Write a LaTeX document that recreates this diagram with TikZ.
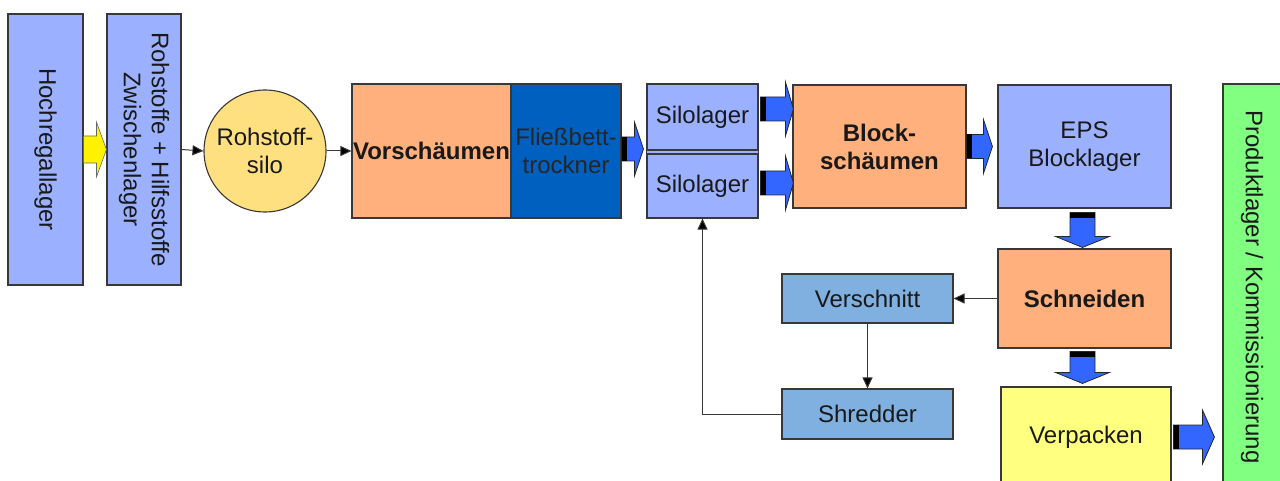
\documentclass[tikz,border=0pt]{standalone}
\usepackage{fontspec}
\setmainfont{Liberation Sans}
\usetikzlibrary{arrows.meta,calc,backgrounds}

\definecolor{lav}{HTML}{9BB0FF}
\definecolor{peach}{HTML}{FFB07C}
\definecolor{dryer}{HTML}{0060C0}
\definecolor{steel}{HTML}{80B0E0}
\definecolor{siloyellow}{HTML}{FFE080}
\definecolor{packyellow}{HTML}{FFFF80}
\definecolor{storegreen}{HTML}{80FF80}
\definecolor{arrowblue}{HTML}{3366FF}
\definecolor{edge}{HTML}{383838}

\tikzset{
  box/.style={draw=edge, line width=1.1pt, inner sep=0pt, align=center,
    font=\fontsize{24}{28}\selectfont, text=black!90},
  boldbox/.style={box, font=\fontsize{24}{28}\selectfont\bfseries},
  flow/.style={draw=edge, line width=1pt, -{Triangle[length=11pt,width=10pt,fill=black]}},
  bigarrow/.style={draw=black!85, line width=0.8pt, fill=arrowblue},
}

% wide arrow pointing right: tail point #2, tip x taken from #3, head length #1
\newcommand\arrowright[3][9pt]{%
  \path[bigarrow] let \p1=#2, \p2=#3 in
    (\x1,\y1+12pt) -- (\x2-#1,\y1+12pt) -- (\x2-#1,\y1+27pt) -- (\x2,\y1)
    -- (\x2-#1,\y1-27pt) -- (\x2-#1,\y1-12pt) -- (\x1,\y1-12pt) -- cycle;
  \path[fill=black] let \p1=#2 in
    (\x1,\y1-12pt) rectangle (\x1+5pt,\y1+12pt);
}
% wide arrow pointing down: tail point #1, tip y taken from #2
\newcommand\arrowdown[2]{%
  \path[bigarrow] let \p1=#1, \p2=#2 in
    (\x1-12.5pt,\y1) -- (\x1-12.5pt,\y2+11pt) -- (\x1-27pt,\y2+11pt) -- (\x1,\y2)
    -- (\x1+27pt,\y2+11pt) -- (\x1+12.5pt,\y2+11pt) -- (\x1+12.5pt,\y1) -- cycle;
  \path[fill=black] let \p1=#1 in
    (\x1-12.5pt,\y1) rectangle (\x1+12.5pt,\y1-5pt);
}

\begin{document}
\begin{tikzpicture}[x=1pt, y=-1pt]
\useasboundingbox (0,0) rectangle (1280,481);

% storage columns (rotated: local north faces right, local south faces left)
\node[box, fill=lav, rotate=-90, minimum width=271pt, minimum height=75pt]
  (hoch) at (45.5,149.5) {Hochregallager};
\node[box, fill=lav, rotate=-90, minimum width=271pt, minimum height=74pt]
  (zwisch) at (144,149.5) {Rohstoffe + Hilfsstoffe\\Zwischenlager};

% raw material silo
\node[box, circle, fill=siloyellow, minimum size=122pt] (silo) at (265,151) {Rohstoff-\\silo};

% pre-foaming and fluid bed dryer
\node[boldbox, fill=peach, minimum width=159pt, minimum height=134pt] (vor) at (431.5,151) {Vorschäumen};
\node[box, fill=dryer, minimum width=110pt, minimum height=134pt, text=black!85] (fb) at (566,151) {Fließbett-\\trockner};

% silo storage: two stacked silos joined by a narrow band
\node[box, fill=lav, minimum width=111pt, minimum height=66pt] (silo1) at (702.5,117) {Silolager};
\node[box, fill=lav, minimum width=111pt, minimum height=64pt] (silo2) at (702.5,186) {Silolager};
\begin{scope}[on background layer]
  \fill[lav] (silo1.south west) rectangle (silo2.north east);
  \draw[edge, line width=1.1pt] (silo1.south west) -- (silo2.north west)
    (silo1.south east) -- (silo2.north east);
\end{scope}

% block moulding and block storage
\node[boldbox, fill=peach, minimum width=173pt, minimum height=123pt] (block) at (879.5,146.5) {Block-\\schäumen};
\node[box, fill=lav, minimum width=173pt, minimum height=123pt] (eps) at (1084.5,146.5) {EPS\\Blocklager};

% cutting, offcuts and shredding
\node[boldbox, fill=peach, minimum width=173pt, minimum height=99pt] (schneid) at (1084.5,298.5) {Schneiden};
\node[box, fill=steel, minimum width=171pt, minimum height=49pt] (versch) at (867.5,298.5) {Verschnitt};
\node[box, fill=steel, minimum width=171pt, minimum height=50pt] (shred) at (867.5,414) {Shredder};

% packing and product storage
\node[box, fill=packyellow, minimum width=170pt, minimum height=100pt] (verp) at (1086,437) {Verpacken};
\node[box, fill=storegreen, rotate=-90, minimum width=406pt, minimum height=58pt]
  (prod) at (1252,287) {Produktlager / Kommissionierung};

% yellow transfer arrow
\path[draw=black!60, line width=0.6pt, fill=yellow] let \p1=(hoch.north), \p2=(zwisch.south) in
  (\x1,\y1+13.5pt) -- (\x2-10pt,\y1+13.5pt) -- (\x2-10pt,\y1+27.5pt) -- (\x2,\y1)
  -- (\x2-10pt,\y1-27.5pt) -- (\x2-10pt,\y1-13.5pt) -- (\x1,\y1-13.5pt) -- cycle;

% thin connectors
\draw[flow] (zwisch.north) -- (silo.west);
\draw[flow] (silo.east) -- (vor.west);
\draw[flow] (schneid.west) -- (versch.east);
\draw[flow] (versch.south) -- (shred.north);
\draw[flow] (shred.west) -| (silo2.south);

% wide blue arrows
\coordinate (t1) at ($(fb.east)+(0,-2)$);
\arrowright{(t1)}{($(silo1.west)+(-3,0)$)}
\coordinate (t2) at ($(silo1.east)+(2,-8)$);
\arrowright[8pt]{(t2)}{($(block.west)+(1,0)$)}
\coordinate (t3) at ($(silo2.east)+(2,-3)$);
\arrowright[8pt]{(t3)}{($(block.west)+(1,0)$)}
\arrowright{(block.east)}{($(eps.west)+(-5,0)$)}
\coordinate (t5) at ($(eps.south)+(-2,4)$);
\arrowdown{(t5)}{($(schneid.north)+(0,-1)$)}
\coordinate (t6) at ($(schneid.south)+(-2,3)$);
\arrowdown{(t6)}{($(verp.north)+(0,-3)$)}
\coordinate (t7) at ($(verp.east)+(2,0)$);
\arrowright[12pt]{(t7)}{($(prod.south)+(-8,0)$)}
\end{tikzpicture}
\end{document}
